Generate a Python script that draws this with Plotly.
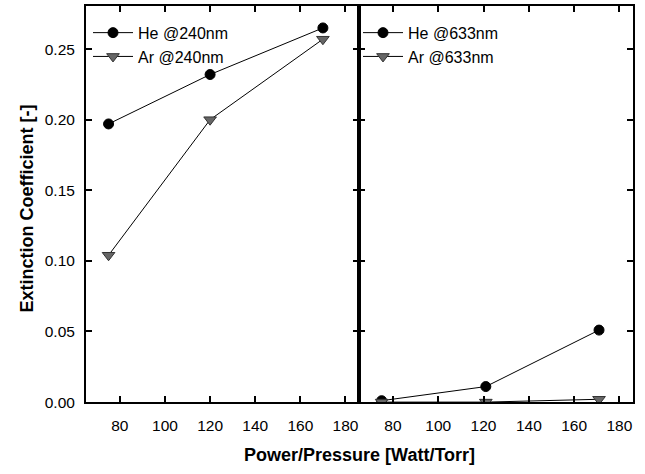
import plotly.graph_objects as go

power = [75, 120, 170]
power_r = [75, 121, 171]
he_240 = [0.197, 0.232, 0.265]
ar_240 = [0.104, 0.200, 0.257]
he_633 = [0.001, 0.011, 0.051]
ar_633 = [0.000, 0.000, 0.002]
xticks = [80, 100, 120, 140, 160, 180]
yticks = [0.00, 0.05, 0.10, 0.15, 0.20, 0.25]

W, H = 645, 474
FONT = "Liberation Sans, Arial, sans-serif"

he_marker = dict(symbol="circle", size=10, color="black", line=dict(color="black", width=1))
ar_marker = dict(symbol="triangle-down", size=11, color="#666666", line=dict(color="#333333", width=1))
line_style = dict(color="black", width=1)

fig = go.Figure()
fig.add_trace(go.Scatter(x=power, y=he_240, mode="lines+markers", name="He @240nm",
                         marker=he_marker, line=line_style, xaxis="x", yaxis="y", legend="legend"))
fig.add_trace(go.Scatter(x=power, y=ar_240, mode="lines+markers", name="Ar @240nm",
                         marker=ar_marker, line=line_style, xaxis="x", yaxis="y", legend="legend"))
fig.add_trace(go.Scatter(x=power_r, y=he_633, mode="lines+markers", name="He @633nm",
                         marker=he_marker, line=line_style, xaxis="x2", yaxis="y2", legend="legend2"))
fig.add_trace(go.Scatter(x=power_r, y=ar_633, mode="lines+markers", name="Ar @633nm",
                         marker=ar_marker, line=line_style, xaxis="x2", yaxis="y2", legend="legend2"))

x1d = [86 / W, 359 / W]
x2d = [359 / W, 633 / W]
yd = [1 - 409 / H, 1 - 6 / H]
xr = [65, 186]
yr = [0, 0.2806]

axis_common = dict(showgrid=False, zeroline=False, showline=True, linecolor="black",
                   linewidth=2, mirror="allticks", ticks="inside", ticklen=6,
                   tickwidth=1.5, tickcolor="black",
                   tickfont=dict(family=FONT, size=15.5, color="black"))

legend_common = dict(bgcolor="rgba(0,0,0,0)", borderwidth=0,
                     font=dict(family=FONT, size=16, color="black"),
                     xanchor="left", yanchor="top", tracegroupgap=0,
                     itemwidth=40)

fig.update_layout(
    width=W, height=H,
    margin=dict(l=0, r=0, t=0, b=0),
    paper_bgcolor="white", plot_bgcolor="white",
    font=dict(family=FONT, color="black"),
    xaxis=dict(domain=x1d, range=xr, tickvals=xticks, anchor="y", ticklabelstandoff=8,
               **axis_common),
    yaxis=dict(domain=yd, range=yr, tickvals=yticks, tickformat=".2f", anchor="x",
               ticklabelstandoff=6, **axis_common),
    xaxis2=dict(domain=x2d, range=xr, tickvals=xticks, anchor="y2", ticklabelstandoff=8,
                **axis_common),
    yaxis2=dict(domain=yd, range=yr, tickvals=yticks, anchor="x2", showticklabels=False,
                **axis_common),
    legend=dict(x=88 / W, y=1 - 16 / H, **legend_common),
    legend2=dict(x=358 / W, y=1 - 16 / H, **legend_common),
    annotations=[
        dict(text="<b>Power/Pressure [Watt/Torr]</b>", xref="paper", yref="paper",
             x=359 / W, y=1 - 463 / H, xanchor="center", yanchor="middle",
             showarrow=False, font=dict(family=FONT, size=18, color="black")),
        dict(text="<b>Extinction Coefficient [-]</b>", xref="paper", yref="paper",
             x=27 / W, y=1 - 212 / H, xanchor="center", yanchor="middle", textangle=-90,
             showarrow=False, font=dict(family=FONT, size=18, color="black")),
    ],
)

fig.write_html("out.html")
